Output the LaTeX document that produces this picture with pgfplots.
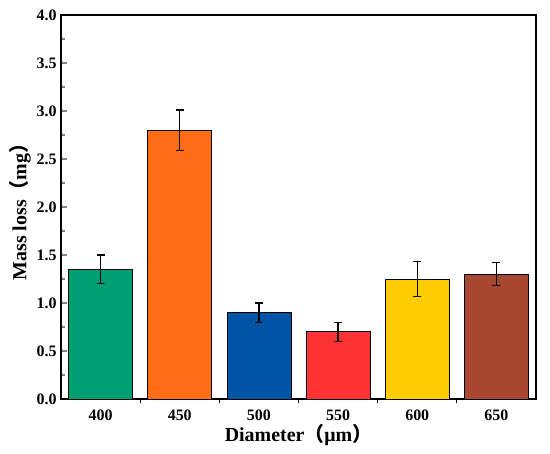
\documentclass[border=0pt]{standalone}
\usepackage{pgfplots}
\pgfplotsset{compat=1.18}
\usepackage{fontspec}
\setmainfont{Liberation Serif}
\newfontfamily\cjk{Noto Sans CJK SC}
\definecolor{cA}{RGB}{0,158,115}
\definecolor{cB}{RGB}{255,110,22}
\definecolor{cC}{RGB}{0,84,166}
\definecolor{cD}{RGB}{255,51,51}
\definecolor{cE}{RGB}{255,204,0}
\definecolor{cF}{RGB}{166,72,48}
\begin{document}
\begin{tikzpicture}
\begin{axis}[
  at={(0,0)}, anchor=south west,
  scale only axis, width=475bp, height=384bp,
  xmin=-0.5, xmax=5.5, ymin=0, ymax=4,
  xtick={0,1,2,3,4,5},
  xticklabels={400,450,500,550,600,650},
  ytick={0,0.5,...,4.0},
  minor x tick num=1, minor y tick num=1,
  tick pos=left, tick align=inside,
  major tick length=6bp, minor tick length=4bp,
  x tick style={draw=none},
  minor x tick style={draw=black, line width=1.2bp},
  y tick style={line width=1.2bp},
  axis line style={line width=1.5bp},
  yticklabel style={/pgf/number format/fixed, /pgf/number format/fixed zerofill, /pgf/number format/precision=1, xshift=-1bp},
  xticklabel style={yshift=-1bp},
  /pgf/number format/assume math mode=true,
  ticklabel style={font=\bfseries\fontsize{16}{18}\selectfont},
  xlabel={Diameter{\cjk （}μm{\cjk ）}},
  ylabel={Mass loss{\cjk （}mg{\cjk ）}},
  label style={font=\bfseries\fontsize{20}{22}\selectfont},
  xlabel style={yshift=3bp},
  ylabel style={yshift=-1bp},
  ybar, bar width=64bp, bar shift=0pt,
  error bars/y dir=both, error bars/y explicit,
  error bars/error bar style={line width=1.2bp, black},
  error bars/error mark options={rotate=90, mark size=4bp, line width=1.2bp, black},
]
\addplot[fill=cA, draw=black, line width=0.8bp] coordinates {(0,1.35) +- (0,0.15)};
\addplot[fill=cB, draw=black, line width=0.8bp] coordinates {(1,2.80) +- (0,0.21)};
\addplot[fill=cC, draw=black, line width=0.8bp] coordinates {(2,0.90) +- (0,0.10)};
\addplot[fill=cD, draw=black, line width=0.8bp] coordinates {(3,0.70) +- (0,0.10)};
\addplot[fill=cE, draw=black, line width=0.8bp] coordinates {(4,1.25) +- (0,0.18)};
\addplot[fill=cF, draw=black, line width=0.8bp] coordinates {(5,1.30) +- (0,0.12)};
\end{axis}
\pgfresetboundingbox
\useasboundingbox (-61bp,-55bp) rectangle (489bp,399bp);
\end{tikzpicture}
\end{document}
